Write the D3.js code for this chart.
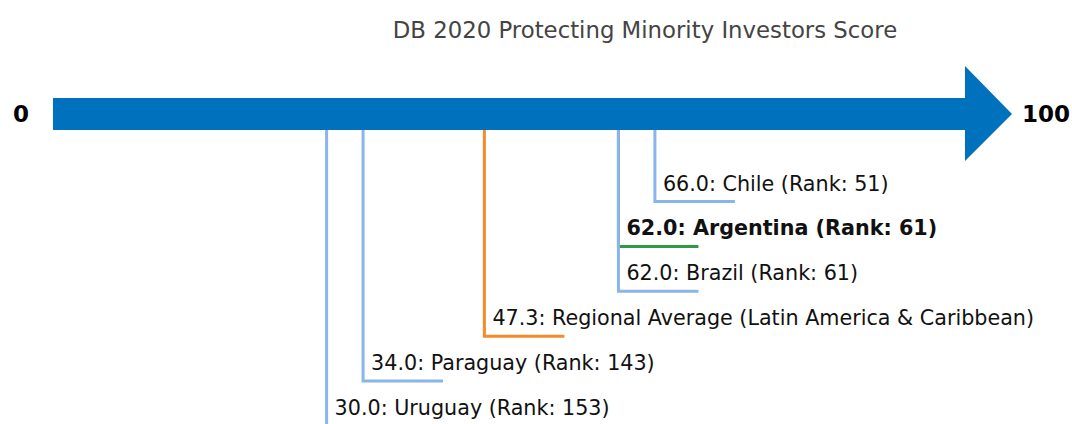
<!DOCTYPE html>
<html>
<head>
<meta charset="utf-8">
<script src="https://cdn.jsdelivr.net/npm/d3@7"></script>
<style>
  body { margin: 0; background: #fff; }
  text { font-family: "DejaVu Sans", sans-serif; }
</style>
</head>
<body>
<div id="chart"></div>
<script>
var names = ["Chile", "Argentina", "Brazil", "Regional Average (Latin America & Caribbean)", "Paraguay", "Uruguay"];
var scores = [66.0, 62.0, 62.0, 47.3, 34.0, 30.0];
var ranks = [51, 61, 61, null, 143, 153];
var kinds = ["peer", "focus", "peer", "region", "peer", "peer"];

var width = 1072, height = 424;
var colors = { peer: "#8ab4ec", focus: "#2e9a48", region: "#f58a2a" };

var svg = d3.select("#chart")
  .append("svg")
  .attr("width", width)
  .attr("height", height);

var x = d3.scaleLinear().domain([0, 100]).range([53, 965]);
var y = d3.scaleLinear().domain([0, 5]).range([201.5, 426]);

var barTop = 98, barBottom = 130;

// title
svg.append("text")
  .attr("x", 645)
  .attr("y", 30)
  .attr("text-anchor", "middle")
  .attr("dominant-baseline", "central")
  .style("font-size", "22.8px")
  .style("fill", "#444")
  .text("DB 2020 Protecting Minority Investors Score");

// arrow
var mid = (barTop + barBottom) / 2;
svg.append("path")
  .attr("d", "M" + x(0) + "," + barTop +
    "L" + x(100) + "," + barTop +
    "L" + x(100) + ",66" +
    "L1012," + mid +
    "L" + x(100) + ",161" +
    "L" + x(100) + "," + barBottom +
    "L" + x(0) + "," + barBottom + "Z")
  .style("fill", "#0071bc");

svg.append("text")
  .attr("x", 21)
  .attr("y", mid)
  .attr("text-anchor", "middle")
  .attr("dominant-baseline", "central")
  .style("font-size", "23px")
  .style("font-weight", "bold")
  .text("0");

svg.append("text")
  .attr("x", 1022)
  .attr("y", mid)
  .attr("dominant-baseline", "central")
  .style("font-size", "23px")
  .style("font-weight", "bold")
  .text("100");

var data = names.map(function (n, i) {
  return { name: n, score: scores[i], rank: ranks[i], kind: kinds[i], row: i };
});

// rows drawn top to bottom, so a lower row's stem covers the one above it
var g = svg.selectAll("g.item")
  .data(data)
  .enter()
  .append("g")
  .attr("class", "item");

g.append("path")
  .attr("d", function (d) {
    return "M" + x(d.score) + "," + barBottom +
      "L" + x(d.score) + "," + y(d.row) +
      "L" + (x(d.score) + 80) + "," + y(d.row);
  })
  .style("fill", "none")
  .style("stroke", function (d) { return colors[d.kind]; })
  .style("stroke-width", 3);

g.append("text")
  .attr("x", function (d) { return x(d.score) + 8; })
  .attr("y", function (d) { return y(d.row) - 18; })
  .attr("dominant-baseline", "central")
  .style("font-size", "20.7px")
  .style("font-weight", function (d) { return d.kind == "focus" ? "bold" : "normal"; })
  .style("fill", "#111")
  .text(function (d) {
    var s = d.score.toFixed(1) + ": " + d.name;
    if (d.rank != null) s += " (Rank: " + d.rank + ")";
    return s;
  });
</script>
</body>
</html>
